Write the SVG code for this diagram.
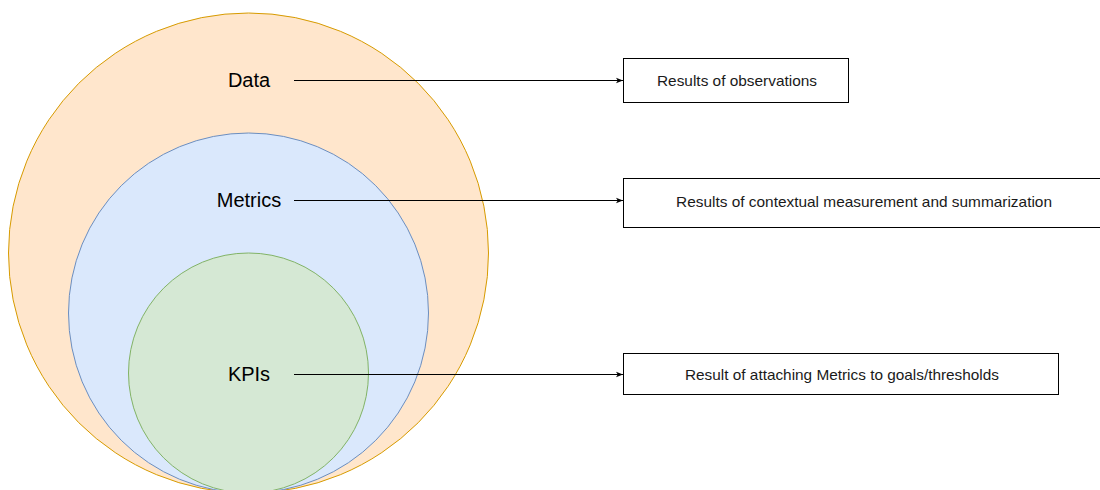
<svg xmlns="http://www.w3.org/2000/svg" width="1100" height="490" viewBox="0 0 1100 490">
  <style>
    .lbl { font-family: "Liberation Sans", Arial, sans-serif; font-size: 20px; fill: #000; text-anchor: middle; }
    .box { fill: #ffffff; stroke: #000000; stroke-width: 1; }
    .boxtxt { font-family: "Liberation Sans", Arial, sans-serif; font-size: 15px; fill: #1a1a1a; text-anchor: middle; }
    .conn { stroke: #000000; stroke-width: 1; fill: none; marker-end: url(#arrow); }
  </style>
  <defs>
    <marker id="arrow" viewBox="0 0 10 10" refX="10" refY="5" markerWidth="7" markerHeight="7" markerUnits="userSpaceOnUse" orient="auto">
      <path d="M0,1 L10,5 L0,9 L2.5,5 Z" fill="#000"/>
    </marker>
  </defs>
  <rect width="1100" height="490" fill="#ffffff"/>

  <!-- nested sets -->
  <g id="data">
    <circle cx="248.5" cy="253" r="240" fill="#ffe6cc" stroke="#d79b00"/>
    <text class="lbl" x="249" y="87">Data</text>
  </g>
  <g id="metrics">
    <circle cx="248.5" cy="313" r="180" fill="#dae8fc" stroke="#6c8ebf"/>
    <text class="lbl" x="249" y="207">Metrics</text>
  </g>
  <g id="kpis">
    <circle cx="248.5" cy="373" r="120" fill="#d5e8d4" stroke="#82b366"/>
    <text class="lbl" x="249" y="381">KPIs</text>
  </g>

  <!-- descriptions -->
  <g id="desc-data">
    <rect class="box" x="623.5" y="58.5" width="225" height="44"/>
    <text class="boxtxt" x="737" y="86" textLength="160" lengthAdjust="spacingAndGlyphs">Results of observations</text>
  </g>
  <g id="desc-metrics">
    <rect class="box" x="623.5" y="178.5" width="481" height="49"/>
    <text class="boxtxt" x="864" y="207" textLength="376" lengthAdjust="spacingAndGlyphs">Results of contextual measurement and summarization</text>
  </g>
  <g id="desc-kpis">
    <rect class="box" x="623.5" y="353.5" width="435" height="41"/>
    <text class="boxtxt" x="842" y="380" textLength="314" lengthAdjust="spacingAndGlyphs">Result of attaching Metrics to goals/thresholds</text>
  </g>

  <!-- connectors -->
  <g id="connectors">
    <line class="conn" x1="294" y1="80.5" x2="623" y2="80.5"/>
    <line class="conn" x1="294" y1="200.5" x2="623" y2="200.5"/>
    <line class="conn" x1="294" y1="374.5" x2="623" y2="374.5"/>
  </g>
</svg>
